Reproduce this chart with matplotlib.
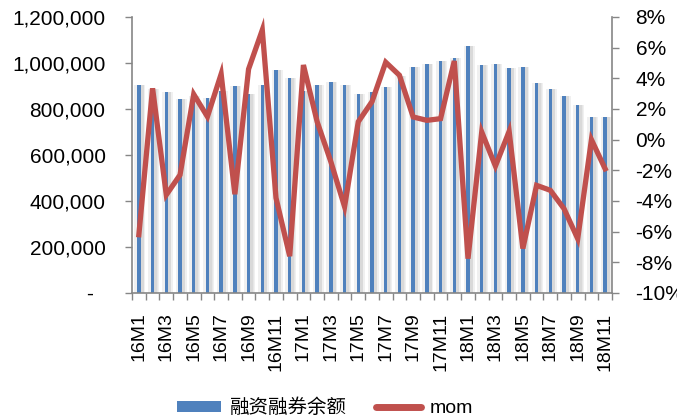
import numpy as np
import matplotlib
matplotlib.use("Agg")
from matplotlib import pyplot as plt
from matplotlib.ticker import FuncFormatter, MultipleLocator
from matplotlib.patches import Patch
from matplotlib.lines import Line2D

plt.rcParams['font.family'] = ['Liberation Sans', 'Noto Sans CJK SC']

# months 16M1 .. 18M11
months = [f"{y}M{m}" for y in (16, 17, 18) for m in range(1, 13)][:35]

# margin balance (left axis)
balance = [903000, 885000, 874000, 843000, 855000, 848000, 878000, 899000, 865000, 904000,
           970000, 933000, 880000, 904000, 916000, 903000, 864000, 874000, 894000, 945000,
           981000, 994000, 1007000, 1020000, 1072000, 990000, 996000, 977000, 983000, 913000,
           886000, 857000, 817000, 764000, 764000]

# month over month change, % (right axis)
mom = [-6.2, 3.35, -3.6, -2.3, 2.96, 1.5, 4.28, -3.56, 4.6, 7.15,
       -3.8, -7.6, 4.87, 1.17, -1.44, -4.37, 1.17, 2.48, 5.05, 4.2,
       1.48, 1.26, 1.37, 5.13, -7.76, 0.5, -1.72, 0.54, -7.1, -2.98,
       -3.3, -4.5, -6.46, 0.0, -1.9]

blue = '#4F81BD'
red = '#C0504D'
axis_grey = '#868686'

fig = plt.figure(figsize=(6.77, 4.16), dpi=100)
ax = fig.add_axes([132 / 677, 1 - 293 / 416, 480 / 677, 276 / 416])
x = np.arange(len(months))

# soft grey glow around each bar, heavier on the right
ax.bar(x + 0.08, balance, width=0.8, color='#f0f0f0', zorder=1)
ax.bar(x + 0.12, balance, width=0.5, color='#e6e6e6', zorder=1)
ax.bar(x + 0.2, balance, width=0.28, color='#d9d9d9', zorder=1)
ax.bar(x, balance, width=0.24, color=blue, zorder=2)

ax.set_xlim(-0.5, len(months) - 0.5)
ax.set_ylim(0, 1200000)
ax.yaxis.set_major_locator(MultipleLocator(200000))
ax.yaxis.set_major_formatter(FuncFormatter(lambda v, p: '-  ' if v == 0 else f'{v:,.0f}'))

ax.set_xticks(x[::2])
ax.set_xticklabels(months[::2], rotation=90)
ax.set_xticks(np.arange(-0.5, len(months)), minor=True)
ax.tick_params(axis='x', which='major', length=0, pad=14, labelsize=14)
ax.tick_params(axis='x', which='minor', length=5, width=1, color=axis_grey)
ax.tick_params(axis='y', length=5, width=1, color=axis_grey, pad=14, labelsize=15)

for s in ('top', 'right'):
    ax.spines[s].set_visible(False)
for s in ('left', 'bottom'):
    ax.spines[s].set_color(axis_grey)
    ax.spines[s].set_linewidth(1.2)

ax2 = ax.twinx()
ax2.plot(x, mom, color=red, lw=3.8, solid_joinstyle='miter', zorder=3)
ax2.set_ylim(-10, 8)
ax2.yaxis.set_major_locator(MultipleLocator(2))
ax2.yaxis.set_major_formatter(FuncFormatter(lambda v, p: f'{v:.0f}%'))
ax2.tick_params(axis='y', length=5, width=1, color=axis_grey, pad=12, labelsize=15)
for s in ('top', 'left', 'bottom'):
    ax2.spines[s].set_visible(False)
ax2.spines['right'].set_color(axis_grey)
ax2.spines['right'].set_linewidth(1.2)

handles = [Patch(facecolor=blue, edgecolor='none'),
           Line2D([], [], color=red, lw=5, solid_capstyle='round')]
fig.legend(handles, ['融资融券余额', 'mom'], loc='center', ncol=2,
           bbox_to_anchor=(325 / 677, 1 - 408 / 416), frameon=False,
           fontsize=14, handlelength=2.3, handleheight=0.5, columnspacing=1.5,
           handletextpad=0.45)

fig.savefig('out.png', dpi=100)
